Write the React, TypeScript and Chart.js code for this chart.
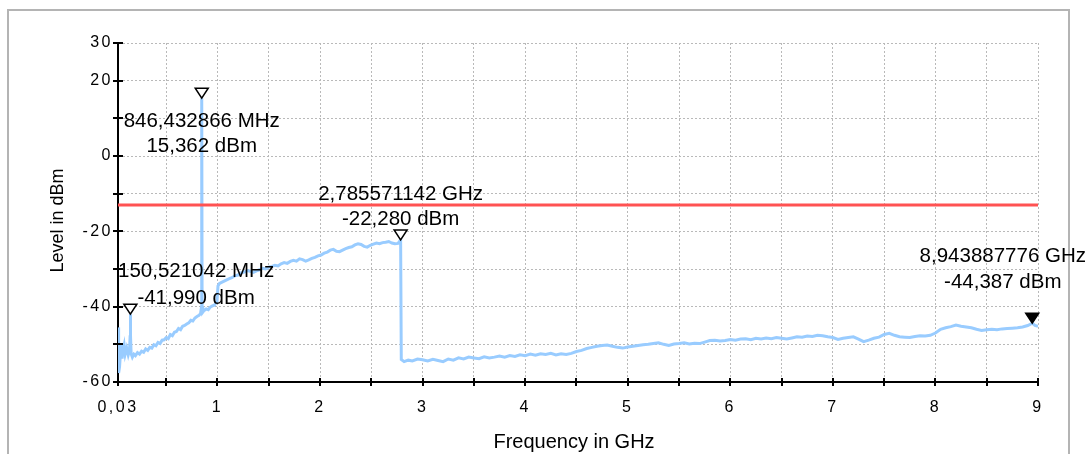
import React, { useEffect, useRef } from "react";
import { Chart, registerables } from "chart.js";

Chart.register(...registerables);

// Trace frequencies (GHz)
const freqGHz = [
  0.03, 0.036, 0.045, 0.055, 0.062, 0.07, 0.08, 0.09, 0.1, 0.115, 0.13, 0.142, 0.148, 0.150521042, 0.153, 0.158,
  0.17, 0.185, 0.2, 0.22, 0.24, 0.26, 0.28, 0.3, 0.32, 0.34, 0.36, 0.38, 0.4, 0.42, 0.44, 0.46, 0.48, 0.5,
  0.52, 0.54, 0.56, 0.58, 0.6, 0.62, 0.64, 0.66, 0.68, 0.7, 0.72, 0.74, 0.76, 0.78, 0.8, 0.82, 0.835, 0.842,
  0.846432866, 0.85, 0.856, 0.87, 0.89, 0.91, 0.93, 0.95, 0.97, 0.985, 0.995, 1.005, 1.02, 1.05, 1.08, 1.11,
  1.14, 1.17, 1.2, 1.23, 1.26, 1.29, 1.32, 1.35, 1.38, 1.41, 1.44, 1.47, 1.5, 1.53, 1.56, 1.59, 1.62, 1.65,
  1.68, 1.71, 1.74, 1.77, 1.8, 1.83, 1.86, 1.89, 1.92, 1.95, 1.98, 2.01, 2.04, 2.07, 2.1, 2.13, 2.16, 2.19,
  2.22, 2.25, 2.28, 2.31, 2.34, 2.37, 2.4, 2.43, 2.46, 2.49, 2.52, 2.55, 2.58, 2.61, 2.64, 2.67, 2.7, 2.73,
  2.76, 2.785571142, 2.792, 2.82, 2.86, 2.9, 2.95, 3.0, 3.05, 3.1, 3.15, 3.2, 3.25, 3.3, 3.35, 3.4, 3.45, 3.5,
  3.55, 3.6, 3.65, 3.7, 3.75, 3.8, 3.85, 3.9, 3.95, 4.0, 4.05, 4.1, 4.15, 4.2, 4.25, 4.3, 4.35, 4.4, 4.45, 4.5,
  4.55, 4.6, 4.65, 4.7, 4.75, 4.8, 4.85, 4.9, 4.95, 5.0, 5.05, 5.1, 5.15, 5.2, 5.25, 5.3, 5.35, 5.4, 5.45, 5.5,
  5.55, 5.6, 5.65, 5.7, 5.75, 5.8, 5.85, 5.9, 5.95, 6.0, 6.05, 6.1, 6.15, 6.2, 6.25, 6.3, 6.35, 6.4, 6.45, 6.5,
  6.55, 6.6, 6.65, 6.7, 6.75, 6.8, 6.85, 6.9, 6.95, 7.0, 7.05, 7.1, 7.15, 7.2, 7.25, 7.3, 7.35, 7.4, 7.45, 7.5,
  7.55, 7.6, 7.65, 7.7, 7.75, 7.8, 7.85, 7.9, 7.95, 8.0, 8.05, 8.1, 8.15, 8.2, 8.25, 8.3, 8.35, 8.4, 8.45, 8.5,
  8.55, 8.6, 8.65, 8.7, 8.75, 8.8, 8.85, 8.9, 8.943887776, 8.97, 9.0,
];

// Trace levels (dBm)
const levelDbm = [
  -45.5, -57.6, -56.0, -52.0, -49.8, -53.8, -51.5, -50.2, -52.6, -51.0, -52.8, -51.6, -48.0, -41.99, -47.5, -52.5,
  -53.4, -52.6, -53.0, -52.2, -52.6, -51.8, -52.1, -51.2, -51.6, -50.8, -51.0, -50.1, -50.4, -49.5, -49.8, -48.9, -48.8, -48.2,
  -48.5, -47.4, -47.7, -46.8, -46.6, -45.8, -46.1, -45.2, -45.0, -44.6, -44.3, -43.6, -43.8, -43.0, -42.6, -42.3, -41.8, -40.5,
  15.362, -40.0, -41.5, -41.0, -40.6, -40.8, -40.1, -39.8, -39.6, -39.0, -38.6, -34.5, -33.8, -33.4, -33.0, -32.6,
  -32.3, -31.8, -31.6, -31.0, -30.8, -30.4, -30.6, -30.9, -30.5, -30.2, -29.8, -30.0, -29.5, -29.3, -29.0, -29.2, -28.6, -28.3,
  -28.5, -28.0, -27.7, -27.9, -27.3, -27.5, -27.9, -27.6, -27.2, -26.9, -26.5, -26.3, -25.8, -25.5, -25.0, -24.8, -25.3, -25.4,
  -25.0, -24.6, -24.3, -24.1, -23.6, -23.3, -23.5, -24.0, -24.2, -23.7, -23.4, -23.1, -23.3, -23.0, -22.9, -22.7, -23.1, -23.3,
  -23.2, -22.28, -54.0, -54.6, -54.2, -54.4, -53.9, -54.1, -54.4, -54.0, -54.3, -54.6, -53.9, -54.2, -53.6, -53.9, -53.4, -53.6,
  -53.8, -53.3, -53.6, -53.4, -53.1, -53.4, -53.0, -53.2, -52.8, -53.0, -52.6, -52.9, -52.5, -52.7, -52.4, -52.8, -52.5, -52.7, -52.4, -51.9,
  -51.6, -51.1, -50.8, -50.5, -50.3, -50.2, -50.5, -50.8, -51.0, -50.7, -50.5, -50.3, -50.1, -50.0, -49.8, -49.6, -50.0, -50.3, -49.9, -49.8,
  -49.6, -49.9, -49.7, -49.8, -49.4, -49.0, -48.9, -49.1, -49.0, -48.7, -48.9, -48.6, -48.5, -48.8, -48.4, -48.6, -48.3, -48.5, -48.2, -48.4,
  -48.6, -48.3, -48.0, -48.1, -47.8, -47.9, -47.6, -47.7, -48.0, -48.2, -48.7, -48.4, -48.2, -48.0, -48.6, -49.3, -48.9, -48.4, -48.1, -47.4,
  -47.1, -47.6, -48.0, -48.1, -48.2, -47.9, -47.7, -47.8, -47.6, -47.0, -46.0, -45.6, -45.3, -44.9, -45.2, -45.4, -45.6, -46.0, -46.3, -46.1,
  -46.0, -46.1, -45.9, -45.8, -45.7, -45.6, -45.4, -45.0, -44.387, -45.0, -45.2,
];

// Limit line
const limitFreqGHz = [0.03, 9];
const limitLevelDbm = [-13, -13];

// Markers
const markerFreqGHz = [0.846432866, 0.150521042, 2.785571142, 8.943887776];
const markerLevelDbm = [15.362, -41.99, -22.28, -44.387];
const markerUnit = ["MHz", "MHz", "GHz", "GHz"];
const markerActive = [false, false, false, true];

// Axis ticks
const xTickValues = [0.03, 0.5, 1, 1.5, 2, 2.5, 3, 3.5, 4, 4.5, 5, 5.5, 6, 6.5, 7, 7.5, 8, 8.5, 9];
const xTickLabels = ["0,03", "", "1", "", "2", "", "3", "", "4", "", "5", "", "6", "", "7", "", "8", "", "9"];
const yTickValues = [30, 20, 10, 0, -10, -20, -30, -40, -50, -60];
const yTickLabels = ["30", "20", "", "0", "", "-20", "", "-40", "", "-60"];

const xTitle = "Frequency in GHz";
const yTitle = "Level in dBm";

// Layout for marker labels (baseline offsets from the marker point, px)
const markerLabelOffsets = [
  [28.8, 54.3],
  [-37.2, -10.6],
  [-40.3, -14.6],
  [-61.2, -34.9],
];

const FONT = '"Liberation Sans", Arial, Helvetica, sans-serif';
const W = 1089;
const H = 454;

function fmt(n: number, d: number) {
  return n.toFixed(d).replace(".", ",");
}

const overlayPlugin = {
  id: "overlay",
  beforeDraw(chart: any) {
    const ctx = chart.ctx as CanvasRenderingContext2D;
    ctx.save();
    ctx.fillStyle = "#ffffff";
    ctx.fillRect(0, 0, chart.width, chart.height);
    ctx.strokeStyle = "#b4b4b4";
    ctx.lineWidth = 2;
    ctx.strokeRect(8, 10, 1061, 500);
    ctx.restore();
    (ctx as any).letterSpacing = "2.5px";
  },
  afterDraw(chart: any) {
    const ctx = chart.ctx as CanvasRenderingContext2D;
    (ctx as any).letterSpacing = "0px";
    const xs = chart.scales.x;
    const ys = chart.scales.y;
    const area = chart.chartArea;
    ctx.save();
    // tick marks crossing axes
    ctx.strokeStyle = "#000";
    ctx.lineWidth = 2;
    ctx.beginPath();
    xTickValues.forEach((v) => {
      const px = Math.round(xs.getPixelForValue(v));
      ctx.moveTo(px, area.bottom - 4);
      ctx.lineTo(px, area.bottom + 4);
    });
    yTickValues.forEach((v) => {
      const py = Math.round(ys.getPixelForValue(v));
      ctx.moveTo(area.left - 5, py);
      ctx.lineTo(area.left + 5, py);
    });
    ctx.stroke();

    // markers
    ctx.font = `20.5px ${FONT}`;
    ctx.fillStyle = "#000";
    ctx.textBaseline = "alphabetic";
    markerFreqGHz.forEach((f, i) => {
      const px = xs.getPixelForValue(f);
      const py = ys.getPixelForValue(markerLevelDbm[i]);
      ctx.beginPath();
      ctx.moveTo(px - 6.5, py - 10);
      ctx.lineTo(px + 6.5, py - 10);
      ctx.lineTo(px, py);
      ctx.closePath();
      ctx.fillStyle = markerActive[i] ? "#000" : "#fff";
      ctx.fill();
      ctx.strokeStyle = "#000";
      ctx.lineWidth = 1.5;
      ctx.stroke();

      const fText =
        markerUnit[i] === "MHz" ? `${fmt(f * 1000, 6)} MHz` : `${fmt(f, 9)} GHz`;
      const lText = `${fmt(markerLevelDbm[i], 3)} dBm`;
      const w = Math.max(ctx.measureText(fText).width, ctx.measureText(lText).width);
      let cx = px;
      if (cx - w / 2 < area.left) cx = area.left + w / 2;
      if (cx + w / 2 > W - 3) cx = W - 3 - w / 2;
      ctx.fillStyle = "#000";
      ctx.textAlign = "center";
      ctx.fillText(fText, cx, py + markerLabelOffsets[i][0]);
      ctx.fillText(lText, cx, py + markerLabelOffsets[i][1]);
    });

    // axis titles
    ctx.textAlign = "center";
    ctx.font = `20px ${FONT}`;
    ctx.fillText(xTitle, (area.left + area.right) / 2 - 4, 448);
    ctx.save();
    ctx.translate(63, (area.top + area.bottom) / 2 + 8);
    ctx.rotate(-Math.PI / 2);
    ctx.font = `18px ${FONT}`;
    ctx.fillText(yTitle, 0, 0);
    ctx.restore();
    ctx.restore();
  },
};

export default function App() {
  const canvasRef = useRef<HTMLCanvasElement | null>(null);

  useEffect(() => {
    const canvas = canvasRef.current;
    if (!canvas) return;
    const trace = freqGHz.map((f, i) => ({ x: f, y: levelDbm[i] }));
    const limit = limitFreqGHz.map((f, i) => ({ x: f, y: limitLevelDbm[i] }));
    const chart = new Chart(canvas, {
      type: "line",
      data: {
        datasets: [
          {
            label: "Limit",
            data: limit,
            borderColor: "#FF5252",
            borderWidth: 3,
            pointRadius: 0,
            order: 0,
          },
          {
            label: "Trace",
            data: trace,
            borderColor: "#99CCFF",
            borderWidth: 3,
            pointRadius: 0,
            tension: 0,
            order: 1,
          },
        ],
      },
      options: {
        responsive: false,
        animation: false,
        events: [],
        devicePixelRatio: 1,
        layout: { padding: { left: 0, top: 43, right: W - 1038, bottom: 0 } },
        plugins: { legend: { display: false }, tooltip: { enabled: false }, title: { display: false } },
        scales: {
          x: {
            type: "linear",
            min: 0.03,
            max: 9,
            afterBuildTicks: (scale: any) => {
              scale.ticks = xTickValues.map((v) => ({ value: v }));
            },
            afterFit: (scale: any) => {
              scale.height = H - 382;
            },
            ticks: {
              autoSkip: false,
              maxRotation: 0,
              minRotation: 0,
              padding: 16,
              color: "#000",
              font: { family: FONT, size: 16 },
              callback: (_v: any, i: number) => xTickLabels[i],
            },
            grid: { color: "#b9b9b9", lineWidth: 1, drawTicks: false },
            border: { display: true, color: "#000", width: 2, dash: [2, 2] },
          },
          y: {
            type: "linear",
            min: -60,
            max: 30,
            afterBuildTicks: (scale: any) => {
              scale.ticks = yTickValues.map((v) => ({ value: v }));
            },
            afterFit: (scale: any) => {
              scale.width = 118;
            },
            ticks: {
              autoSkip: false,
              padding: 5,
              color: "#000",
              font: { family: FONT, size: 16 },
              callback: (_v: any, i: number) => yTickLabels[i],
            },
            grid: { color: "#b9b9b9", lineWidth: 1, drawTicks: false },
            border: { display: true, color: "#000", width: 2, dash: [2, 2] },
          },
        },
      },
      plugins: [overlayPlugin],
    });
    return () => chart.destroy();
  }, []);

  return (
    <div style={{ position: "fixed", left: 0, top: 0, width: W, height: H, background: "#fff" }}>
      <canvas ref={canvasRef} width={W} height={H} style={{ width: W, height: H, display: "block" }} />
    </div>
  );
}
